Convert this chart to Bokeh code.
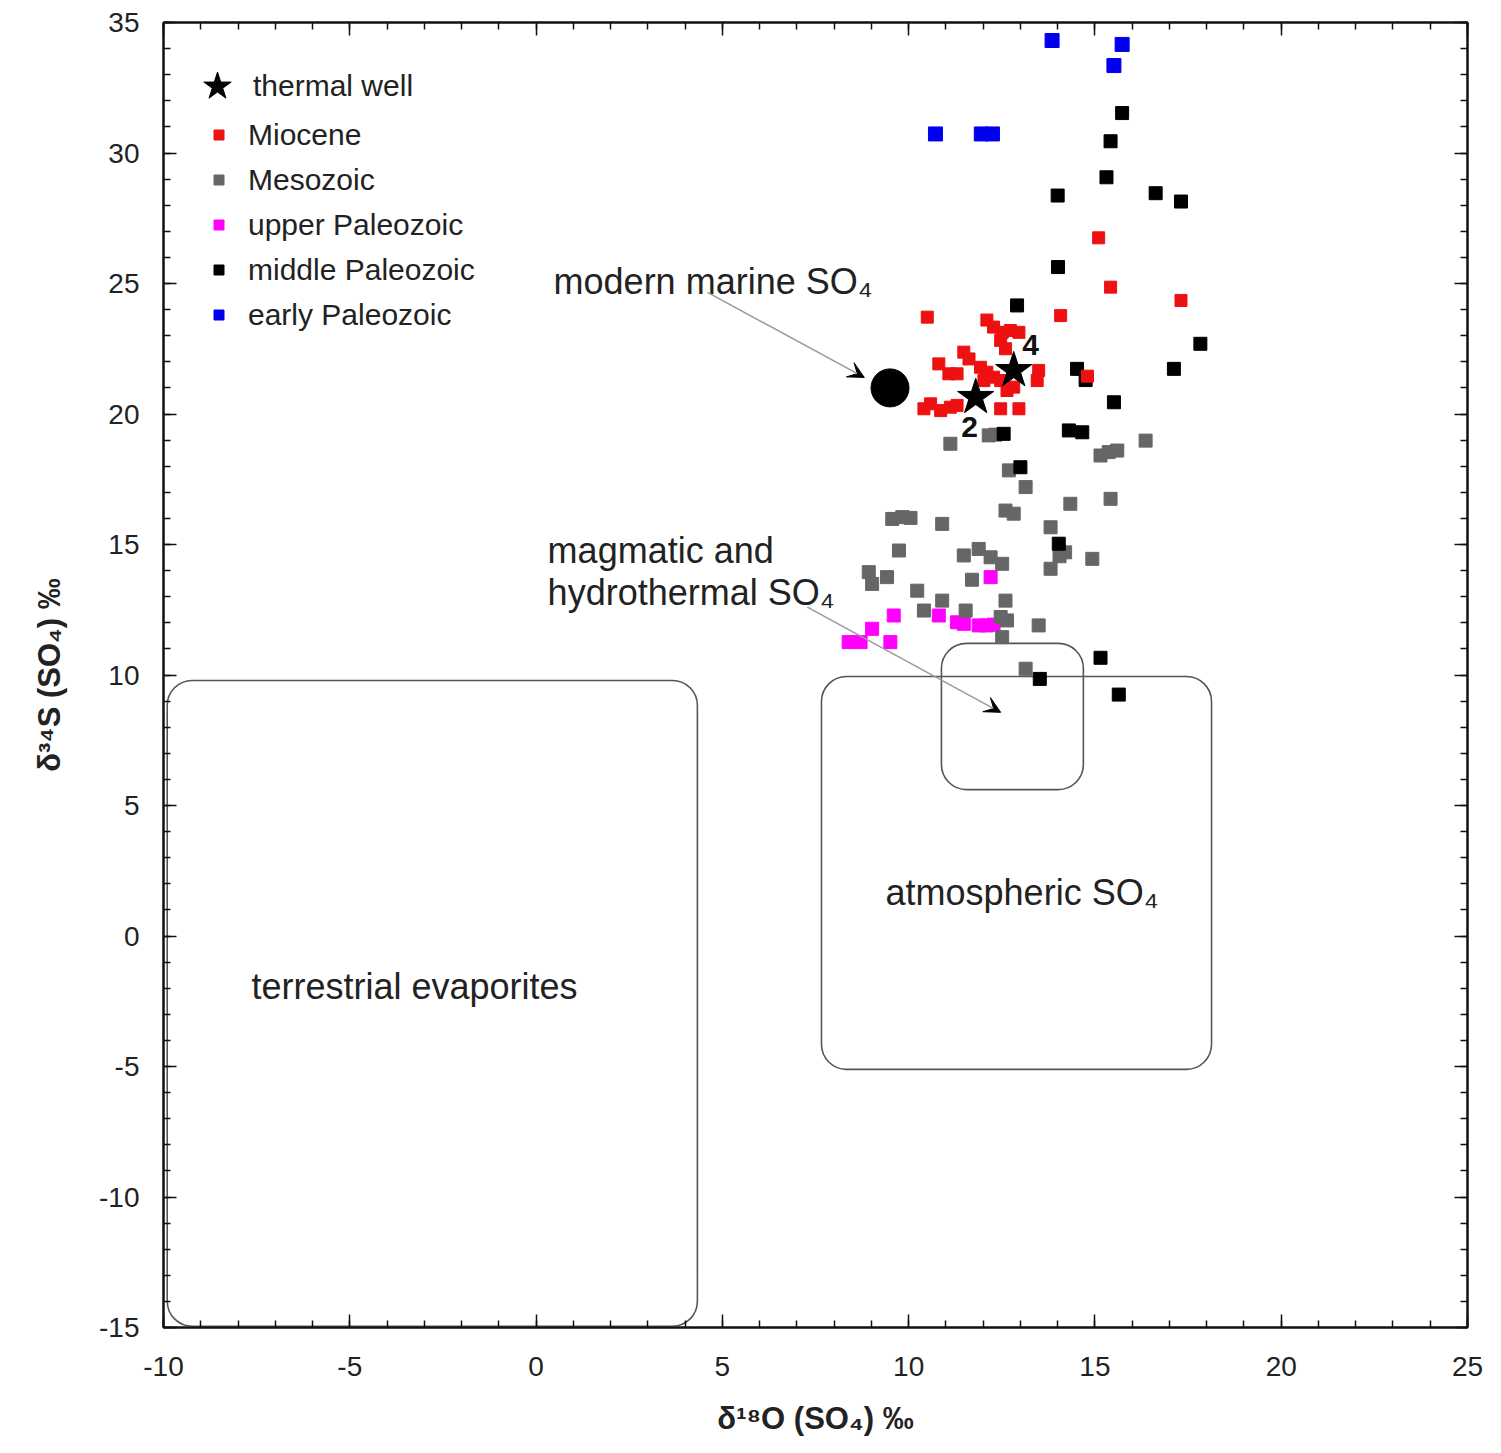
from bokeh.plotting import figure
from bokeh.models import (LinearAxis, SingleIntervalTicker, CustomJSTickFormatter,
                          Legend, LegendItem, Label, Arrow, VeeHead, ColumnDataSource)
from bokeh.embed import file_html
from bokeh.resources import INLINE
from bokeh.core.properties import value

# ---------------- data ----------------
miocene_x = [15.10, 15.42, 17.31, 10.50, 12.10, 14.08, 12.28, 12.51, 12.73, 12.96, 12.47, 12.60,
             11.48, 11.62, 10.81, 11.08, 11.30, 11.93, 12.10, 12.02, 12.28, 12.47, 13.49, 13.45,
             12.82, 12.64, 14.80, 10.41, 10.59, 10.86, 11.12, 11.30, 12.47, 12.96]
miocene_y = [26.75, 24.86, 24.35, 23.71, 23.60, 23.77, 23.33, 23.13, 23.20, 23.13, 22.82, 22.50,
             22.37, 22.11, 21.92, 21.54, 21.54, 21.79, 21.60, 21.28, 21.41, 21.28, 21.67, 21.28,
             21.03, 20.90, 21.45, 20.20, 20.39, 20.13, 20.26, 20.33, 20.20, 20.20]

mesozoic_x = [12.15, 12.33, 11.12, 16.36, 15.15, 15.37, 15.60, 12.69, 13.14, 14.34, 15.42, 12.60,
              12.82, 13.81, 9.56, 9.83, 10.05, 10.90, 14.20, 14.05, 13.81, 14.93, 9.74, 11.48,
              11.88, 12.20, 12.51, 11.70, 8.93, 9.02, 9.42, 10.23, 10.90, 12.60, 10.41, 11.53,
              12.47, 12.64, 12.51, 13.49, 13.14]
mesozoic_y = [19.18, 19.21, 18.86, 18.98, 18.41, 18.54, 18.60, 17.84, 17.20, 16.56, 16.75, 16.30,
              16.18, 15.66, 15.98, 16.05, 16.02, 15.79, 14.70, 14.55, 14.07, 14.45, 14.77, 14.58,
              14.83, 14.51, 14.26, 13.65, 13.94, 13.49, 13.75, 13.23, 12.85, 12.85, 12.47, 12.47,
              12.22, 12.09, 11.45, 11.90, 10.24]

upper_pal_x = [12.20, 9.60, 10.81, 11.30, 11.48, 11.88, 12.10, 12.28, 9.02, 8.39, 8.71, 9.51]
upper_pal_y = [13.75, 12.28, 12.28, 12.02, 11.96, 11.90, 11.90, 11.93, 11.77, 11.26, 11.26, 11.26]

middle_pal_x = [15.73, 15.42, 15.31, 14.00, 16.63, 17.31, 14.01, 12.91, 14.52, 14.75, 15.51, 17.12,
                17.83, 14.30, 14.66, 12.55, 13.00, 14.03, 15.15, 13.52, 15.64]
middle_pal_y = [31.53, 30.45, 29.07, 28.37, 28.46, 28.14, 25.63, 24.16, 21.73, 21.30, 20.45, 21.73,
                22.69, 19.37, 19.30, 19.24, 17.96, 15.03, 10.66, 9.85, 9.25]

early_pal_x = [13.85, 15.73, 15.51, 10.72, 11.95, 12.25]
early_pal_y = [34.31, 34.16, 33.35, 30.73, 30.73, 30.73]

well_x = [11.80, 12.82]
well_y = [20.64, 21.67]
well_labels = ["2", "4"]

marine_x = [9.5]
marine_y = [21.0]

region_names = ["terrestrial evaporites", "atmospheric SO₄", "magmatic and hydrothermal SO₄"]
region_left = [-9.9, 7.66, 10.88]
region_right = [4.33, 18.13, 14.69]
region_bottom = [-14.95, -5.11, 5.61]
region_top = [9.79, 9.94, 11.21]

x_ticks_interval = 5
y_ticks_interval = 5

FONT = "Liberation Sans"
TXT = "#222222"

# ---------------- figure ----------------
p = figure(x_range=(-10, 25), y_range=(-15, 35),
           frame_width=1304, frame_height=1305,
           min_border_left=163, min_border_top=22, min_border_right=20, min_border_bottom=110,
           output_backend="svg", toolbar_location=None)
p.grid.visible = False
p.outline_line_color = "#111111"
p.outline_line_width = 2
p.background_fill_color = "white"

plain = CustomJSTickFormatter(code="return String(tick)")

def style_axis(ax):
    ax.axis_line_color = "#111111"
    ax.axis_line_width = 2
    ax.major_tick_in = 13
    ax.major_tick_out = 0
    ax.minor_tick_in = 7
    ax.minor_tick_out = 0
    ax.major_tick_line_color = "#111111"
    ax.minor_tick_line_color = "#111111"
    ax.major_tick_line_width = 1.5
    ax.minor_tick_line_width = 1.5
    ax.major_label_text_font = FONT
    ax.major_label_text_font_size = "28px"
    ax.major_label_text_color = TXT
    ax.axis_label_text_font = FONT
    ax.axis_label_text_font_size = "31px"
    ax.axis_label_text_font_style = "bold"
    ax.axis_label_text_color = TXT

xa = p.xaxis[0]
xa.ticker = SingleIntervalTicker(interval=x_ticks_interval, num_minor_ticks=5)
xa.formatter = plain
style_axis(xa)
xa.major_label_standoff = 29
xa.axis_label = "δ¹⁸O (SO₄) ‰"
xa.axis_label_standoff = 22

ya = p.yaxis[0]
ya.ticker = SingleIntervalTicker(interval=y_ticks_interval, num_minor_ticks=5)
ya.formatter = plain
style_axis(ya)
ya.major_label_standoff = 24
ya.axis_label = "δ³⁴S (SO₄) ‰"
ya.axis_label_standoff = 29

blank = CustomJSTickFormatter(code="return ''")
top = LinearAxis(ticker=SingleIntervalTicker(interval=x_ticks_interval, num_minor_ticks=5), formatter=blank)
right = LinearAxis(ticker=SingleIntervalTicker(interval=y_ticks_interval, num_minor_ticks=5), formatter=blank)
for ax in (top, right):
    style_axis(ax)
    ax.major_label_text_font_size = "1px"
    ax.major_label_standoff = 0
p.add_layout(top, "above")
p.add_layout(right, "right")

# ---------------- regions ----------------
p.quad(left=region_left, right=region_right, bottom=region_bottom, top=region_top,
       border_radius=25, fill_color=None, line_color="#555555", line_width=1.6)

# ---------------- points ----------------
SQ = 13
r_up = p.scatter(upper_pal_x, upper_pal_y, marker="square", size=SQ, color="#ff00ff")
r_me = p.scatter(mesozoic_x, mesozoic_y, marker="square", size=SQ, color="#666666")
r_mid = p.scatter(middle_pal_x, middle_pal_y, marker="square", size=SQ, color="#000000")
r_mio = p.scatter(miocene_x, miocene_y, marker="square", size=12, color="#ee1111")
r_ear = p.scatter(early_pal_x, early_pal_y, marker="square", size=14, color="#0000ee")
p.scatter(marine_x, marine_y, marker="circle", size=38, color="#000000")

src_w = ColumnDataSource(dict(x=well_x, y=well_y, t=well_labels,
                              dx=[-6, 17], dy=[30, -25]))
r_well = p.scatter("x", "y", source=src_w, marker="star", size=38, color="#000000")
p.text("x", "y", text="t", source=src_w, x_offset="dx", y_offset="dy",
       text_font=value(FONT), text_font_style="bold", text_font_size="30px",
       text_color="#111111", text_align="center", text_baseline="middle")

# ---------------- annotations ----------------
def lab(x, y, t):
    p.add_layout(Label(x=x, y=y, text=t, text_font=FONT, text_font_size="36px",
                       text_color=TXT, text_baseline="alphabetic", text_align="left"))

lab(0.47, 25.08, "modern marine SO₄")
lab(0.31, 14.77, "magmatic and")
lab(0.31, 13.16, "hydrothermal SO₄")
lab(9.38, 1.67, "atmospheric SO₄")
lab(-7.64, -1.95, "terrestrial evaporites")

for (xs, ys, xe, ye) in [(4.60, 24.66, 8.81, 21.4), (7.28, 12.6, 12.47, 8.57)]:
    p.add_layout(Arrow(end=VeeHead(size=16, fill_color="black", line_color="black", line_width=1),
                       x_start=xs, y_start=ys, x_end=xe, y_end=ye,
                       line_color="#9a9a9a", line_width=1.5))

# ---------------- legends ----------------
def style_legend(lg):
    lg.border_line_color = None
    lg.background_fill_alpha = 0
    lg.margin = 0
    lg.padding = 0
    lg.spacing = 0
    lg.label_text_font = FONT
    lg.label_text_font_size = "30px"
    lg.label_text_color = TXT

lg_star = Legend(items=[LegendItem(label="thermal well", renderers=[r_well])],
                 location=(18, 1203))
style_legend(lg_star)
lg_star.glyph_width = 72
lg_star.glyph_height = 76
lg_star.label_height = 30
lg_star.label_standoff = 0
p.add_layout(lg_star)

lg_sq = Legend(items=[
    LegendItem(label="Miocene", renderers=[r_mio]),
    LegendItem(label="Mesozoic", renderers=[r_me]),
    LegendItem(label="upper Paleozoic", renderers=[r_up]),
    LegendItem(label="middle Paleozoic", renderers=[r_mid]),
    LegendItem(label="early Paleozoic", renderers=[r_ear]),
], location=(43, 990))
style_legend(lg_sq)
lg_sq.glyph_width = 25
lg_sq.glyph_height = 45
lg_sq.label_height = 30
lg_sq.label_standoff = 17
p.add_layout(lg_sq)

open("out.html", "w").write(file_html(p, INLINE))
